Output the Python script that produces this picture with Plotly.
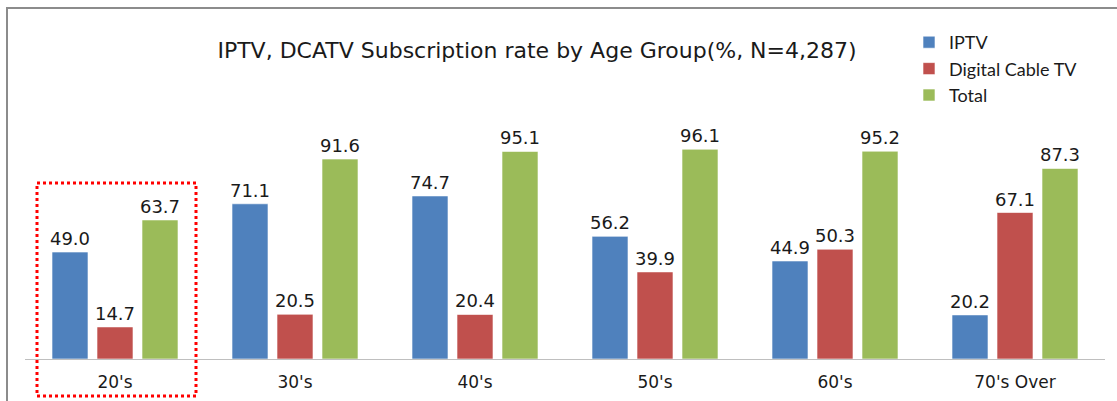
import plotly.graph_objects as go

categories = ["20's", "30's", "40's", "50's", "60's", "70's Over"]
iptv = [49.0, 71.1, 74.7, 56.2, 44.9, 20.2]
dcatv = [14.7, 20.5, 20.4, 39.9, 50.3, 67.1]
total = [63.7, 91.6, 95.1, 96.1, 95.2, 87.3]
series_names = ["IPTV", "Digital Cable TV", "Total"]
colors = ["#4F81BD", "#C0504D", "#9BBB59"]
title_text = "IPTV, DCATV Subscription rate by Age Group(%, N=4,287)"

FONT = "DejaVu Sans"
LEG_FONT = "Lato"
W, H = 1117, 401
L, R, T, B = 25, 12, 10, 42
pw, ph = W - L - R, H - T - B

def px(x):
    return (x - L) / pw

def py(y):
    return (H - B - y) / ph

fig = go.Figure()
for name, vals, col in zip(series_names, [iptv, dcatv, total], colors):
    fig.add_trace(go.Bar(
        x=categories, y=vals, name=name,
        marker=dict(color=col, line=dict(color="rgba(255,255,255,0.6)", width=1)),
        texttemplate="%{y:.1f}", textposition="outside", constraintext="none",
        textfont=dict(family=FONT, size=18, color="#1a1a1a"),
        cliponaxis=False,
    ))

fig.update_layout(
    width=W, height=H,
    margin=dict(l=L, r=R, t=T, b=B),
    paper_bgcolor="white", plot_bgcolor="white",
    barmode="group", bargap=0.25, bargroupgap=0.2,
    font=dict(family=FONT, color="#1a1a1a"),
    title=dict(text=title_text, x=537 / W, xanchor="center", xref="container",
               y=1 - 50 / H, yanchor="middle", yref="container",
               font=dict(family=FONT, size=22, color="#1a1a1a")),
    legend=dict(x=px(909), y=py(24), xanchor="left", yanchor="top",
                font=dict(family=LEG_FONT, size=18, color="#1a1a1a"),
                bgcolor="rgba(0,0,0,0)", itemwidth=30, tracegroupgap=0),
    xaxis=dict(showgrid=False, showline=True, linecolor="#BFBFBF", linewidth=1,
               ticks="", ticklabelstandoff=8,
               tickfont=dict(family=FONT, size=17, color="#1a1a1a")),
    yaxis=dict(range=[0, ph / 2.183], visible=False, showgrid=False),
    shapes=[
        dict(type="rect", xref="paper", yref="paper",
             x0=px(7), x1=px(1125), y0=py(410), y1=py(8),
             line=dict(color="#8C8C8C", width=2), fillcolor="rgba(0,0,0,0)", layer="below"),
        dict(type="rect", xref="paper", yref="paper",
             x0=px(37), x1=px(196), y0=py(396), y1=py(183),
             line=dict(color="#FF0000", width=3, dash="dot"), fillcolor="rgba(0,0,0,0)"),
    ],
)

fig.write_html("out.html", config={"displayModeBar": False},
               post_script="document.body.style.margin='0';")
